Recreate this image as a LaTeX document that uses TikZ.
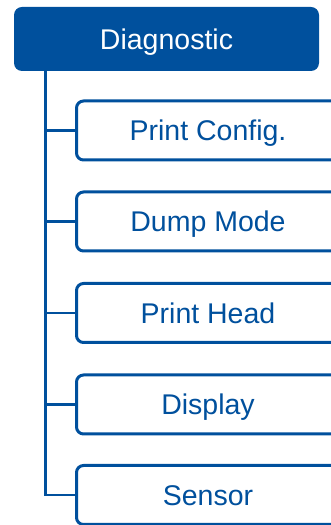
\documentclass[tikz,border=0pt]{standalone}
\usepackage{fontspec}
\setmainfont{Liberation Sans}
\definecolor{dblue}{RGB}{0,80,157}
\begin{document}
\begin{tikzpicture}[x=1pt,y=1pt,
  parentbox/.style={draw=none,fill=dblue,text=white,rounded corners=8pt,
    minimum width=305pt,minimum height=64pt,inner sep=0pt,text height=20.5pt,text depth=0pt,
    font=\fontsize{28.5}{32}\selectfont},
  childbox/.style={draw=dblue,line width=3pt,fill=white,text=dblue,rounded corners=7pt,
    minimum width=263pt,minimum height=59pt,inner sep=0pt,text height=20.5pt,text depth=0pt,
    font=\fontsize{28.5}{32}\selectfont},
  link/.style={draw=dblue,line width=2.7pt}]
\useasboundingbox (0,0) rectangle (331,525);
\node[parentbox] (top) at (166.5,486) {Diagnostic};
\node[childbox] (c1) at (208,394.5) {Print Config.};
\node[childbox] (c2) at (208,303.5) {Dump Mode};
\node[childbox] (c3) at (208,212) {Print Head};
\node[childbox] (c4) at (208,120.5) {Display};
\node[childbox] (c5) at (208,30) {Sensor};
\coordinate (trunk) at (45.7,454);
\draw[link] (trunk) |- (c5.west);
\foreach \c in {c1,c2,c3,c4}{\draw[link] (trunk |- \c.west) -- (\c.west);}
\end{tikzpicture}
\end{document}
